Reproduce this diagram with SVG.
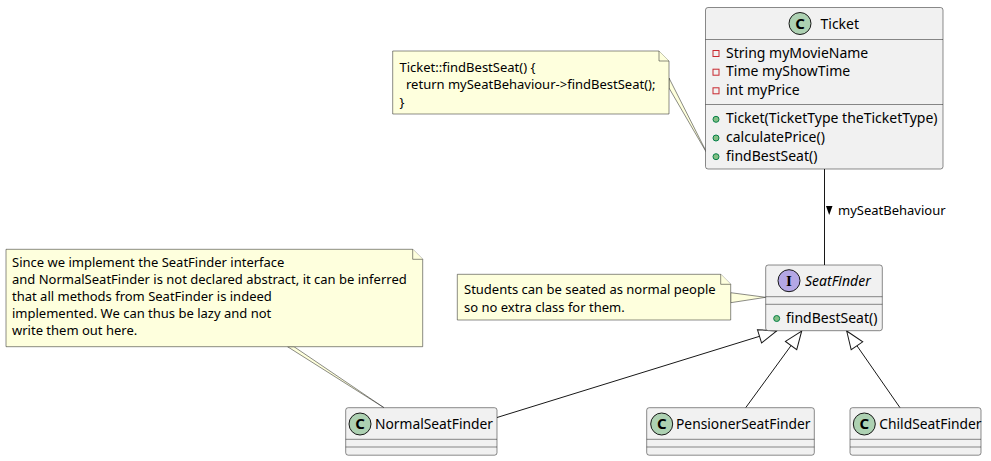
<svg xmlns="http://www.w3.org/2000/svg" width="991" height="461" viewBox="0 0 991 461">
<defs>
<style>
.cls{fill:#F1F1F1;stroke:#181818;stroke-width:0.5}
.sep{stroke:#181818;stroke-width:0.5}
.note{fill:#FEFFDD;stroke:#181818;stroke-width:0.5}
.t{font-family:"Noto Sans","Open Sans",sans-serif;font-size:14px;fill:#000}
.cn{font-family:"Noto Sans","Open Sans",sans-serif;font-size:13.8px;fill:#000}
.n{font-family:"Noto Sans","Open Sans",sans-serif;font-size:13px;fill:#000}
.ci{fill:#ADD1B2;stroke:#181818;stroke-width:1}
.ii{fill:#B4A7E5;stroke:#181818;stroke-width:1}
.cl{font-family:"Noto Sans","DejaVu Sans",sans-serif;font-size:15px;font-weight:bold;fill:#000}
.priv{fill:none;stroke:#C82930;stroke-width:1}
.pub{fill:#84BE84;stroke:#038048;stroke-width:1}
.link{fill:none;stroke:#181818;stroke-width:1}
</style>
<marker id="ext" markerUnits="userSpaceOnUse" markerWidth="20" markerHeight="16" refX="19" refY="8" orient="auto" viewBox="0 0 20 16" overflow="visible">
<path d="M1,1 L19,8 L1,15 Z" fill="#FFFFFF" stroke="#181818" stroke-width="1"/>
</marker>
</defs>
<rect width="991" height="461" fill="#FFFFFF"/>

<g id="connectors">
<line class="link" x1="824.5" y1="169" x2="824.5" y2="265"/>
<polygon points="826,206 832.5,206 829.2,215" fill="#000"/>
<text class="n" x="838" y="215">mySeatBehaviour</text>
<line class="link" x1="497" y1="417.5" x2="776.7" y2="331" marker-end="url(#ext)"/>
<line class="link" x1="745.7" y1="407.7" x2="801.7" y2="331" marker-end="url(#ext)"/>
<line class="link" x1="900" y1="407.7" x2="846.7" y2="331" marker-end="url(#ext)"/>
<polygon class="note" points="669,78 708.5,156 669,88"/>
<polygon class="note" points="730.7,292.7 765.7,297.3 730.7,302.7"/>
<polygon class="note" points="287.5,346.7 384,407.7 294,346.7"/>
</g>

<g id="Ticket">
<rect class="cls" x="705.5" y="7.5" width="237.5" height="161.5" rx="2.5"/>
<circle class="ci" cx="800" cy="23.5" r="11"/>
<text class="cl" x="800" y="28.8" text-anchor="middle">C</text>
<text class="t" x="820.5" y="28.5">Ticket</text>
<line class="sep" x1="705.5" y1="39.5" x2="943" y2="39.5"/>
<rect class="priv" x="713" y="50.5" width="6" height="6"/>
<text class="t" x="726" y="57.7">String myMovieName</text>
<rect class="priv" x="713" y="69.2" width="6" height="6"/>
<text class="t" x="726" y="76.4">Time myShowTime</text>
<rect class="priv" x="713" y="87.8" width="6" height="6"/>
<text class="t" x="726" y="95">int myPrice</text>
<line class="sep" x1="705.5" y1="104.5" x2="943" y2="104.5"/>
<circle class="pub" cx="716" cy="119.3" r="3"/>
<text class="t" x="726" y="123.3">Ticket(TicketType theTicketType)</text>
<circle class="pub" cx="716" cy="138" r="3"/>
<text class="t" x="726" y="142">calculatePrice()</text>
<circle class="pub" cx="716" cy="156.7" r="3"/>
<text class="t" x="726" y="160.7">findBestSeat()</text>
</g>

<g id="note-ticket">
<path class="note" d="M392.7,51 L392.7,114 L669,114 L669,61 L659,51 Z"/>
<path class="note" d="M659,51 L659,61 L669,61" fill="none"/>
<text class="n" x="399.5" y="71.5">Ticket::findBestSeat() {</text>
<text class="n" x="406" y="89.2">return mySeatBehaviour-&gt;findBestSeat();</text>
<text class="n" x="399.5" y="106.7">}</text>
</g>

<g id="SeatFinder">
<rect class="cls" x="765.7" y="265" width="116.6" height="65.7" rx="2.5"/>
<circle class="ii" cx="789" cy="280.7" r="11"/>
<text x="789" y="286" text-anchor="middle" style="font-family:'Liberation Serif',serif;font-size:15px;font-weight:bold">I</text>
<text class="t" x="805" y="285.5" font-style="italic">SeatFinder</text>
<line class="sep" x1="765.7" y1="296.7" x2="882.3" y2="296.7"/>
<line class="sep" x1="765.7" y1="304.3" x2="882.3" y2="304.3"/>
<circle class="pub" cx="776.7" cy="318.5" r="3"/>
<text class="t" x="786" y="323">findBestSeat()</text>
</g>

<g id="note-students">
<path class="note" d="M457.3,274.3 L457.3,320 L730.7,320 L730.7,284.3 L720.7,274.3 Z"/>
<path class="note" d="M720.7,274.3 L720.7,284.3 L730.7,284.3" fill="none"/>
<text class="n" x="464" y="294">Students can be seated as normal people</text>
<text class="n" x="464" y="311.7">so no extra class for them.</text>
</g>

<g id="note-normal">
<path class="note" d="M6,249.3 L6,346.7 L422.7,346.7 L422.7,259.3 L412.7,249.3 Z"/>
<path class="note" d="M412.7,249.3 L412.7,259.3 L422.7,259.3" fill="none"/>
<text class="n" x="12" y="267.3">Since we implement the SeatFinder interface</text>
<text class="n" x="12" y="284.3">and NormalSeatFinder is not declared abstract, it can be inferred</text>
<text class="n" x="12" y="301.3">that all methods from SeatFinder is indeed</text>
<text class="n" x="12" y="318.3">implemented. We can thus be lazy and not</text>
<text class="n" x="12" y="335.3">write them out here.</text>
</g>

<g id="NormalSeatFinder">
<rect class="cls" x="345.7" y="407.7" width="151.3" height="47.5" rx="2.5"/>
<circle class="ci" cx="360" cy="424" r="11"/>
<text class="cl" x="360" y="429.3" text-anchor="middle">C</text>
<text class="cn" x="375" y="429">NormalSeatFinder</text>
<line class="sep" x1="345.7" y1="439.3" x2="497" y2="439.3"/>
<line class="sep" x1="345.7" y1="447" x2="497" y2="447"/>
</g>

<g id="PensionerSeatFinder">
<rect class="cls" x="646.7" y="407.7" width="167.6" height="47.5" rx="2.5"/>
<circle class="ci" cx="661.7" cy="424" r="11"/>
<text class="cl" x="661.7" y="429.3" text-anchor="middle">C</text>
<text class="cn" x="676" y="429">PensionerSeatFinder</text>
<line class="sep" x1="646.7" y1="439.3" x2="814.3" y2="439.3"/>
<line class="sep" x1="646.7" y1="447" x2="814.3" y2="447"/>
</g>

<g id="ChildSeatFinder">
<rect class="cls" x="850" y="407.7" width="131" height="47.5" rx="2.5"/>
<circle class="ci" cx="864.3" cy="424" r="11"/>
<text class="cl" x="864.3" y="429.3" text-anchor="middle">C</text>
<text class="cn" x="879.3" y="429">ChildSeatFinder</text>
<line class="sep" x1="850" y1="439.3" x2="981" y2="439.3"/>
<line class="sep" x1="850" y1="447" x2="981" y2="447"/>
</g>
</svg>
